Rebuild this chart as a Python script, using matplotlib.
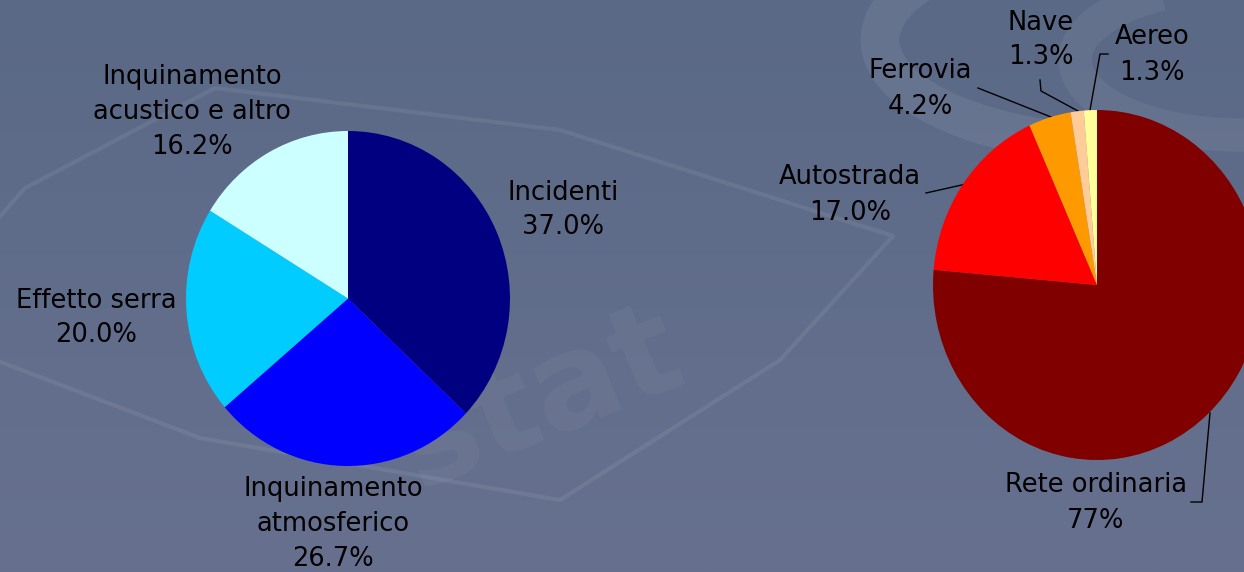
import numpy as np
import matplotlib
matplotlib.use("Agg")
import matplotlib.pyplot as plt
from matplotlib.patches import Arc, Polygon

# external costs of transport - share by cost type
costi_labels = ["Incidenti", "Inquinamento\natmosferico", "Effetto serra",
                "Inquinamento\nacustico e altro"]
costi_values = [37.0, 26.7, 20.0, 16.2]
costi_colors = ["#000080", "#0000FF", "#00CCFF", "#CCFFFF"]

# share by transport mode
modi_labels = ["Rete ordinaria", "Autostrada", "Ferrovia", "Nave", "Aereo"]
modi_values = [77, 17.0, 4.2, 1.3, 1.3]
modi_text = ["77%", "17.0%", "4.2%", "1.3%", "1.3%"]
modi_colors = ["#800000", "#FF0000", "#FF9900", "#FFCC99", "#FFFF99"]

W, H = 1244, 572
fig = plt.figure(figsize=(W / 100, H / 100), dpi=100)

# background
bg = fig.add_axes([0, 0, 1, 1])
bg.set_xlim(0, W)
bg.set_ylim(H, 0)
bg.axis("off")
grad = np.linspace(0, 1, 200).reshape(-1, 1)
cmap = matplotlib.colors.LinearSegmentedColormap.from_list("bg", ["#5a6986", "#67718f"])
bg.imshow(grad, cmap=cmap, extent=[0, W, H, 0], aspect="auto", zorder=0)

# faint watermark
wm = [(-10, 228), (25, 188), (215, 88), (560, 130), (893, 236), (780, 360),
      (560, 500), (200, 438), (-10, 358)]
bg.add_patch(Polygon(wm, closed=True, fill=False, edgecolor="white",
                     alpha=0.07, lw=3, joinstyle="round", zorder=1))
bg.text(700, 400, "stat", fontsize=95, fontweight="bold", color="white",
        alpha=0.045, rotation=22, ha="right", va="center", zorder=1)
bg.add_patch(Arc((1130, 40), 500, 210, theta1=95, theta2=250, lw=28,
                 color="white", alpha=0.07, zorder=1))
bg.add_patch(Arc((1240, 60), 330, 150, theta1=60, theta2=220, lw=24,
                 color="white", alpha=0.06, zorder=1))


def pie_axes(x0, x1, y0, y1):
    a = fig.add_axes([x0 / W, 1 - y1 / H, (x1 - x0) / W, (y1 - y0) / H])
    a.patch.set_visible(False)
    return a


ax1 = pie_axes(186, 510, 131, 466)
ax1.pie(costi_values, colors=costi_colors, startangle=90, counterclock=False,
        wedgeprops=dict(linewidth=0))
ax1.set_aspect("auto")
ax1.set_xlim(-1, 1)
ax1.set_ylim(-1, 1)
ax1.axis("off")

ax2 = pie_axes(933, 1261, 110, 460)
ax2.pie(modi_values, colors=modi_colors, startangle=90, counterclock=False,
        wedgeprops=dict(linewidth=0))
ax2.set_aspect("auto")
ax2.set_xlim(-1, 1)
ax2.set_ylim(-1, 1)
ax2.axis("off")

txt = dict(fontsize=18.5, ha="center", va="center", color="black",
           linespacing=1.45, zorder=5)

# labels of left pie
costi_pos = [(563, 210), (333, 524), (96, 318), (192, 112)]
for lab, v, (x, y) in zip(costi_labels, costi_values, costi_pos):
    bg.text(x, y, f"{lab}\n{v:.1f}%", **txt)

# labels of right pie
modi_pos = [(1096, 503), (850, 195), (920, 89), (1041, 40), (1152, 55)]
for lab, t, (x, y) in zip(modi_labels, modi_text, modi_pos):
    bg.text(x, y, f"{lab}\n{t}", **txt)

# leader lines
leaders = [
    [(1210, 413), (1202, 502), (1191, 502)],
    [(926, 193), (966, 184)],
    [(978, 88), (1051, 117)],
    [(1040, 80), (1041, 91), (1078, 111)],
    [(1108, 54), (1100, 54), (1090, 110)],
]
for pts in leaders:
    xs, ys = zip(*pts)
    bg.plot(xs, ys, color="black", lw=1, zorder=4)

fig.savefig("out.png", dpi=100)
